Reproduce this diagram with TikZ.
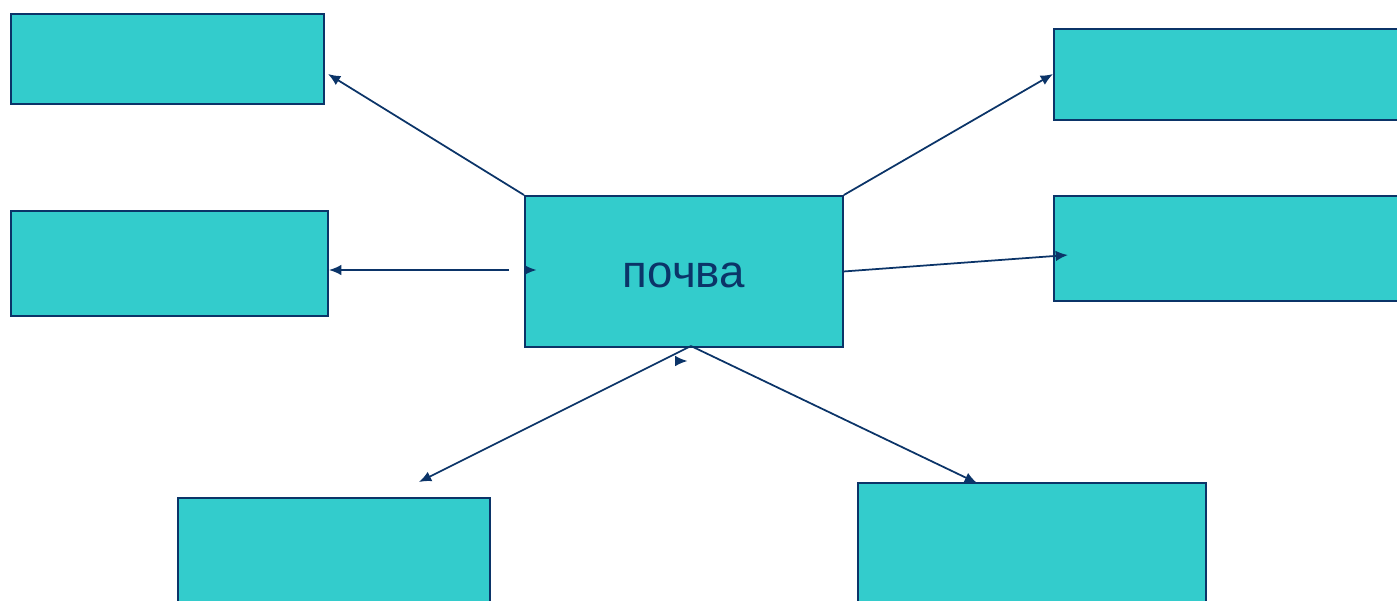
\documentclass[tikz,border=0pt]{standalone}
\usepackage{fontspec}
\setmainfont{Liberation Sans}
\usetikzlibrary{arrows.meta,positioning,calc}
\definecolor{tealbox}{HTML}{33CCCC}
\definecolor{navy}{HTML}{0B3468}
\tikzset{
  box/.style={draw=navy, line width=1.1pt, fill=tealbox, anchor=north west, inner sep=0pt},
  link/.style={draw=navy, line width=1pt, -{Latex[length=7pt,width=6pt]}}
}
\begin{document}
\begin{tikzpicture}[x=0.02cm,y=-0.02cm]
\useasboundingbox (0,0) rectangle (1397,600);
\clip (0,0) rectangle (1397,600);
% boxes
\node[box, minimum width=6.26cm, minimum height=1.8cm] (tl) at (10,13) {};
\node[box, minimum width=6.34cm, minimum height=2.1cm] (ml) at (10,210) {};
\node[box, minimum width=7.2cm, minimum height=1.82cm] (tr) at (1053,28) {};
\node[box, minimum width=7.2cm, minimum height=2.1cm] (mr) at (1053,195) {};
\node[box, minimum width=6.24cm, minimum height=2.5cm] (bl) at (177,497) {};
\node[box, minimum width=6.96cm, minimum height=2.7cm] (br) at (857,482) {};
\node[box, minimum width=6.36cm, minimum height=3.02cm, text=navy,
  font=\fontsize{26}{30}\selectfont] (soil) at (524,195) {\raisebox{-9pt}[0pt][0pt]{почва}};
% ends of the arrows
\coordinate (A) at (328,74);
\coordinate (B) at (1053,74);
\coordinate (C) at (509,270);
\coordinate (D) at (329,270);
\coordinate (E) at (1068,255);
\coordinate (F) at (691,346);
\coordinate (G) at (419,482);
\coordinate (H) at (977,483);
\draw[link] (soil.north west) -- (A);
\draw[link] (soil.north east) -- (B);
\draw[link] (C) -- (D);
\draw[link] (soil.east) -- (E);
\draw[link] (F) -- (G);
\draw[link] (F) -- (H);
% loose tips
\draw[link] (524,270) -- (536.5,270);
\draw[link] (675,361) -- (687.5,361);
\end{tikzpicture}
\end{document}
